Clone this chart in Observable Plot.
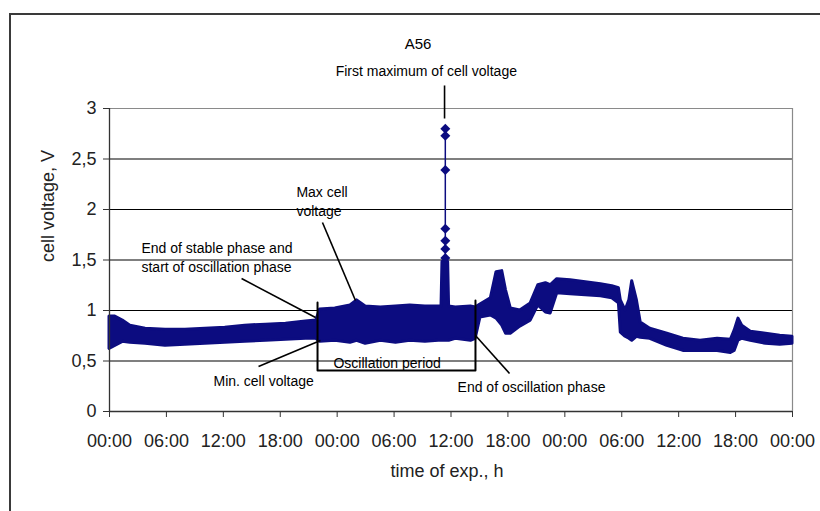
<!DOCTYPE html>
<html><head><meta charset="utf-8">
<script src="https://cdn.jsdelivr.net/npm/d3@7"></script>
<script src="https://cdn.jsdelivr.net/npm/@observablehq/plot@0.6"></script>
<style>
html,body{margin:0;padding:0;background:#fff;overflow:hidden;}
#wrap{position:relative;width:820px;height:511px;}
#frame{position:absolute;left:9px;top:13px;width:900px;height:600px;border-left:2px solid #3a3a3a;border-top:2px solid #3a3a3a;pointer-events:none;}
svg{display:block;}
</style></head><body><div id="wrap"><div id="frame"></div></div>
<script>
// ---- data (time in hours from start, cell voltage in V) ----
const timeH = [0,0.6,1.4,2.2,3.8,5.9,8.0,10.1,12.2,14.3,16.5,18.6,20.7,21.8,22.2,23.8,25.4,26.1,27.0,28.6,30.2,31.7,33.3,34.7,35.0,35.1,35.7,35.8,36.5,38.1,38.6,39.1,40.2,40.8,41.4,41.8,42.3,43.3,44.4,45.2,46.0,46.5,47.2,48.6,50.2,51.8,53.0,53.7,53.9,54.4,54.8,55.1,55.6,56.0,57.0,58.8,60.5,62.3,64.1,65.5,65.9,66.3,66.7,67.6,69.2,70.7,72.0];
const upperV = [0.94,0.94,0.90,0.85,0.82,0.81,0.81,0.82,0.83,0.85,0.86,0.87,0.89,0.90,1.01,1.02,1.05,1.10,1.04,1.03,1.04,1.05,1.04,1.04,1.04,1.48,1.48,1.04,1.03,1.04,1.03,1.06,1.12,1.38,1.39,1.20,1.02,1.00,1.07,1.25,1.27,1.25,1.31,1.30,1.28,1.26,1.24,1.22,1.10,1.00,1.10,1.29,1.10,0.88,0.82,0.77,0.72,0.70,0.72,0.71,0.80,0.92,0.85,0.79,0.77,0.75,0.74];
const lowerV = [0.62,0.65,0.69,0.68,0.67,0.65,0.66,0.67,0.68,0.69,0.70,0.71,0.72,0.72,0.69,0.70,0.68,0.70,0.67,0.70,0.68,0.70,0.69,0.70,0.70,0.70,0.70,0.70,0.72,0.70,0.72,0.93,0.95,0.92,0.85,0.77,0.77,0.84,0.90,1.05,0.98,0.97,1.17,1.16,1.15,1.14,1.12,1.07,0.78,0.74,0.72,0.70,0.74,0.73,0.72,0.65,0.60,0.60,0.60,0.58,0.60,0.70,0.72,0.70,0.67,0.66,0.67];

// first maximum spike (individual readings)
const spikeTimeH = 35.4;
const spikeV = [2.80, 2.73, 2.39, 1.81, 1.69, 1.61, 1.52];

// axes
const xTicks = [0,6,12,18,24,30,36,42,48,54,60,66,72];
const yTicks = [0,0.5,1,1.5,2,2.5,3];
const gridV = [0.5,1,1.5,2,2.5];
const titleText = "A56";
const xLabel = "time of exp., h";
const yLabel = "cell voltage, V";

// annotations (positions in data units: hours, volts)
const headNote = "First maximum of cell voltage";
const headNoteT = 33.4;
const headNoteV = 3.37;
const noteText = ["Max cell\nvoltage", "End of stable phase and\nstart of oscillation phase", "Min. cell voltage", "Oscillation period", "End of oscillation phase"];
const noteT = [19.7, 3.37, 10.96, 23.61, 36.69];
const noteV = [2.094, 1.54, 0.317, 0.495, 0.257];

const pointerT1 = [35.32, 22.45, 13.92, 15.71, 38.58];
const pointerV1 = [3.228, 1.871, 1.317, 0.446, 0.752];
const pointerT2 = [35.32, 25.93, 21.72, 22.24, 42.17];
const pointerV2 = [2.901, 1.099, 0.931, 0.703, 0.376];

const bracketT = [21.93, 21.93, 38.58, 38.58];
const bracketV = [1.079, 0.406, 0.406, 1.099];

// ---- build ----
const navy = "#0c0c80";
const series = timeH.map((t, i) => ({t, lo: lowerV[i], hi: upperV[i]}));
const spike = spikeV.map(v => ({t: spikeTimeH, v}));
const notes = noteText.map((s, i) => ({s, t: noteT[i], v: noteV[i]}));
const pointers = pointerT1.map((t, i) => ({t1: t, v1: pointerV1[i], t2: pointerT2[i], v2: pointerV2[i]}));
const bracket = bracketT.map((t, i) => ({t, v: bracketV[i]}));
const fmtX = d => String(d % 24).padStart(2, "0") + ":00";
const fmtY = d => String(d).replace(".", ",");

const chart = Plot.plot({
  width: 820, height: 511,
  marginLeft: 109, marginRight: 28, marginTop: 108, marginBottom: 100,
  style: {fontFamily: '"Liberation Sans", Arial, sans-serif', fontSize: "18px", background: "transparent", color: "#222", overflow: "visible"},
  x: {domain: [0, 72]},
  y: {domain: [0, 3]},
  marks: [
    Plot.ruleY(gridV, {stroke: "#000", strokeWidth: 1.2}),
    Plot.ruleY([3], {stroke: "#8a8a8a", strokeWidth: 1.2}),
    Plot.ruleX([72], {stroke: "#8a8a8a", strokeWidth: 1.2}),
    Plot.areaY(series, {x: "t", y1: "lo", y2: "hi", fill: navy, stroke: navy, strokeWidth: 3, strokeLinejoin: "round", curve: "linear"}),
    Plot.ruleX([spikeTimeH], {y1: d3.min(spikeV), y2: d3.max(spikeV), stroke: navy, strokeWidth: 1.5}),
    Plot.dot(spike, {x: "t", y: "v", symbol: "diamond2", r: 4.5, fill: navy}),
    Plot.axisX({ticks: xTicks, tickFormat: fmtX, tickSize: 6, tickPadding: 17, label: null, fontSize: 18, stroke: "#333"}),
    Plot.axisY({ticks: yTicks, tickFormat: fmtY, tickSize: 6, tickPadding: 7, label: null, fontSize: 18, stroke: "#333"}),
    Plot.ruleY([0], {stroke: "#333", strokeWidth: 1.3}),
    Plot.ruleX([0], {stroke: "#333", strokeWidth: 1.3}),
    Plot.link(pointers, {x1: "t1", y1: "v1", x2: "t2", y2: "v2", stroke: "#000", strokeWidth: 1.6}),
    Plot.line(bracket, {x: "t", y: "v", stroke: "#000", strokeWidth: 2, curve: "linear"}),
    Plot.text(notes, {x: "t", y: "v", text: "s", textAnchor: "start", fontSize: 14, lineHeight: 1.36, fill: "#000"}),
    Plot.text([headNote], {x: headNoteT, y: headNoteV, textAnchor: "middle", fontSize: 14, fill: "#000"}),
    Plot.text([titleText], {frameAnchor: "top", dx: -33, dy: -70, fontSize: 15, fill: "#000"}),
    Plot.text([xLabel], {frameAnchor: "bottom", dx: -4, dy: 65, fontSize: 18, fill: "#222"}),
    Plot.text([yLabel], {frameAnchor: "left", dx: -61, dy: 2, rotate: -90, fontSize: 18, fill: "#222"})
  ]
});
const wrap = document.getElementById("wrap");
wrap.insertBefore(chart, wrap.firstChild);
</script>
</body></html>
